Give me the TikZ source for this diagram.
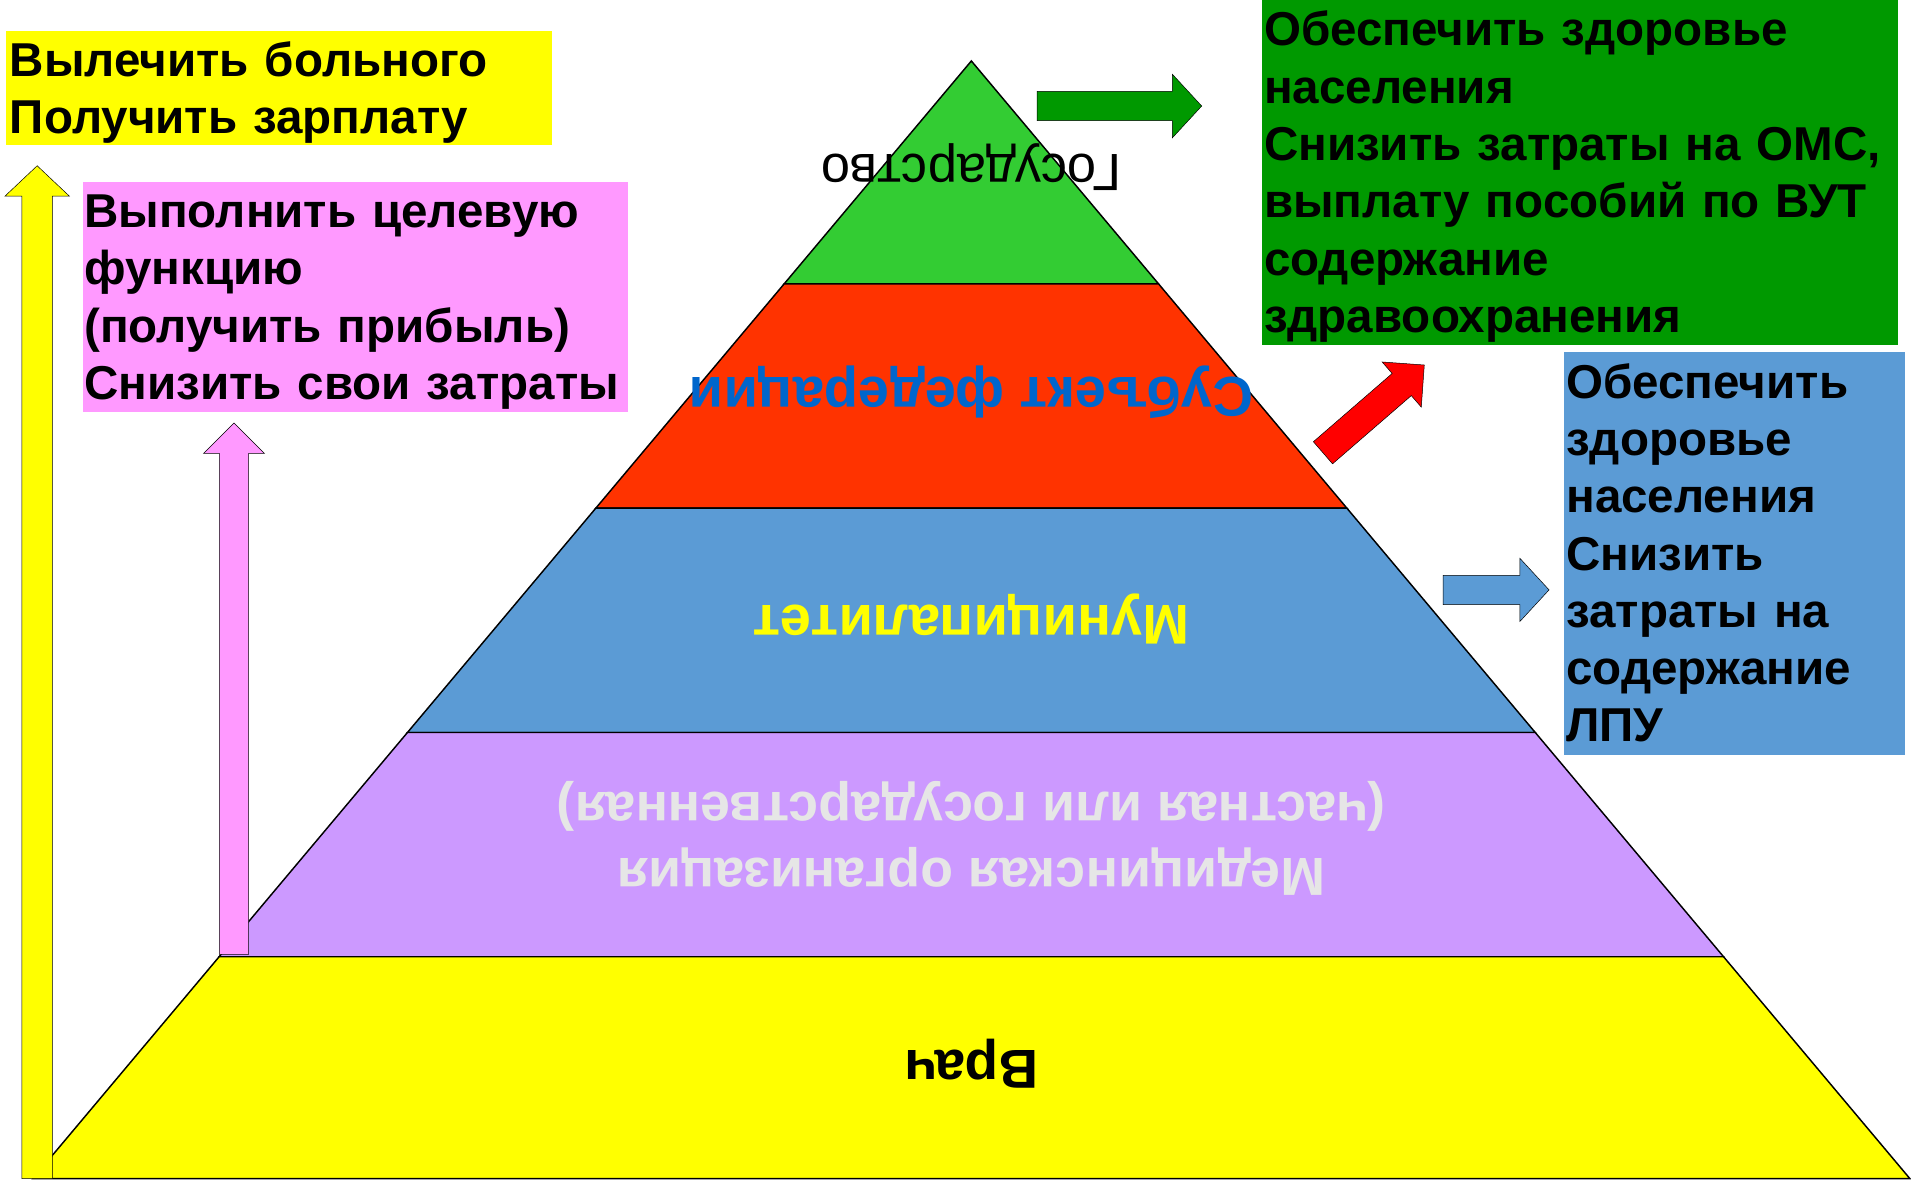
\documentclass[tikz,border=0pt]{standalone}
\usepackage{fontspec}
\setmainfont{Liberation Sans}
\definecolor{lvlgreen}{HTML}{33CC33}
\definecolor{lvlred}{HTML}{FF3300}
\definecolor{lvlblue}{HTML}{5B9BD5}
\definecolor{lvlviolet}{HTML}{CC99FF}
\definecolor{lvlyellow}{HTML}{FFFF00}
\definecolor{boxgreen}{HTML}{009900}
\definecolor{boxpink}{HTML}{FF99FF}
\definecolor{subjblue}{HTML}{0066CC}
\definecolor{paletext}{HTML}{E6E6E6}
\definecolor{arrowred}{HTML}{FF0000}
\tikzset{
  pics/fatarrow/.style n args={4}{code={
    \filldraw (0,-#2) -- ({#1-#4},-#2) -- ({#1-#4},-#3) -- (#1,0)
      -- ({#1-#4},#3) -- ({#1-#4},#2) -- (0,#2) -- cycle;}}}

\begin{document}
\begin{tikzpicture}[x=1pt,y=-1pt,
    layer/.style={draw=black,line width=1.2pt},
    goal/.style={anchor=north west,align=left,inner ysep=0pt,text height=37.5pt,
      font=\bfseries\fontsize{39}{47}\selectfont},
    tier/.style={rotate=180,align=center,font=\bfseries\fontsize{46}{54}\selectfont}]
    \useasboundingbox (0,0) rectangle (1568,970);
    \foreach \ytop/\ybot/\col in {50/233/lvlgreen,233/417/lvlred,417/601/lvlblue,
        601/785/lvlviolet,785/967/lvlyellow}
        \filldraw[layer,fill=\col] ({797-0.8397*(\ytop-50)},\ytop) -- ({797+0.8397*(\ytop-50)},\ytop)
            -- ({797+0.8397*(\ybot-50)},\ybot) -- ({797-0.8397*(\ybot-50)},\ybot) -- cycle;

    \node[tier,font=\fontsize{43}{48}\selectfont] (state) at (797,137) {Государство};
    \node[tier,text=subjblue] (subject) at (797,322) {Субъект федерации};
    \node[tier,text=lvlyellow] (municipality) at (797,508) {Муниципалитет};
    \node[tier,text=paletext,font=\bfseries\fontsize{44}{54}\selectfont] (clinic) at (797,688)
        {Медицинская организация\\(частная или государственная)};
    \node[tier,font=\bfseries\fontsize{45}{54}\selectfont] (doctor) at (797,873) {Врач};

    \pic[fill=lvlyellow,rotate=90] at (30.5,967) {fatarrow={831}{12.5}{26.5}{25}};
    \pic[fill=boxpink,rotate=90] at (192,783) {fatarrow={436}{12}{25}{25}};
    \pic[fill=boxgreen] at (851,87) {fatarrow={135}{12}{26}{24}};
    \pic[fill=arrowred,rotate=40.9] at (1085.5,371.5) {fatarrow={110}{12}{24.5}{24.5}};
    \pic[fill=lvlblue] at (1184,484) {fatarrow={87}{12}{26}{24}};

    \node[goal,fill=lvlyellow,inner xsep=3pt,text width=442pt,text depth=56.5pt] (cure) at (5,25)
        {Вылечить~больного\\Получить~зарплату};
    \node[goal,fill=boxpink,inner xsep=1pt,text width=445pt,text depth=151.5pt] (profit) at (68,149)
        {Выполнить~целевую\\функцию\\(получить~прибыль)\\Снизить~свои~затраты};
    \node[goal,fill=boxgreen,inner xsep=2pt,text width=518pt,text depth=245.5pt] (health) at (1035,0)
        {Обеспечить~здоровье\\населения\\Снизить~затраты~на~ОМС,\\выплату~пособий~по~ВУТ\\содержание\\здравоохранения};
    \node[goal,fill=lvlblue,inner xsep=2pt,text width=276pt,text depth=292.5pt] (upkeep) at (1283,289)
        {Обеспечить\\здоровье\\населения\\Снизить\\затраты~на\\содержание\\ЛПУ};
\end{tikzpicture}
\end{document}
